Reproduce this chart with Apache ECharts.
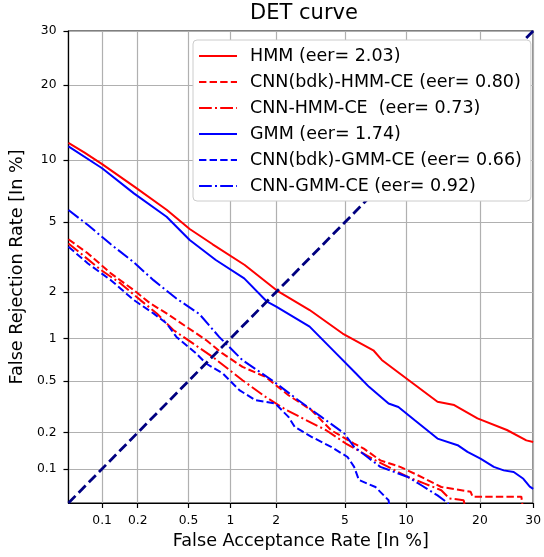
<!DOCTYPE html>
<html><head><meta charset="utf-8">
<script src="https://cdn.jsdelivr.net/npm/echarts@6/dist/echarts.min.js"></script>
<style>html,body{margin:0;padding:0;background:#fff}#c{width:544px;height:557px}</style>
</head><body><div id="c"></div>
<script>
// ---- data (percent values) ----
const tickPercents = [0.1, 0.2, 0.5, 1, 2, 5, 10, 20, 30];
const axisRange = [0.05, 30];

const seriesNames = [
  'HMM (eer= 2.03)',
  'CNN(bdk)-HMM-CE (eer= 0.80)',
  'CNN-HMM-CE  (eer= 0.73)',
  'GMM (eer= 1.74)',
  'CNN(bdk)-GMM-CE (eer= 0.66)',
  'CNN-GMM-CE (eer= 0.92)'
];

// [False Acceptance %, False Rejection %]
const hmm = [[0.05,11.9],[0.07,10.8],[0.1,9.6],[0.19,7.5],[0.34,5.8],[0.51,4.6],[0.75,3.8],[1.25,2.9],[2.02,2.04],[3.18,1.54],[4.86,1.08],[7.0,0.83],[7.7,0.71],[9.2,0.58],[10.95,0.47],[13.7,0.35],[16,0.33],[19.6,0.26],[24.8,0.21],[28.6,0.173],[30,0.168]];
const cnnBdkHmm = [[0.05,4.05],[0.075,3.38],[0.119,2.59],[0.186,2.05],[0.252,1.70],[0.34,1.465],[0.481,1.2],[0.673,0.975],[0.88,0.789],[1.208,0.634],[1.71,0.536],[2.38,0.392],[3.26,0.301],[4.21,0.209],[5.59,0.163],[6.27,0.148],[7.58,0.118],[9.4,0.104],[11.3,0.088],[14.2,0.0695],[18.5,0.063],[18.8,0.057],[27.6,0.057],[27.9,0.045]];
const cnnHmm = [[0.05,3.84],[0.098,2.71],[0.144,2.255],[0.21,1.78],[0.285,1.465],[0.383,1.14],[0.539,0.925],[0.75,0.746],[1.208,0.507],[1.71,0.381],[2.32,0.301],[3.05,0.251],[3.95,0.209],[5.06,0.163],[7.17,0.118],[10.2,0.085],[12.1,0.0745],[14.2,0.065],[15.3,0.055],[17.4,0.053],[17.7,0.045]];
const gmm = [[0.05,11.5],[0.1,9.2],[0.186,7.0],[0.34,5.34],[0.51,4.01],[0.79,3.1],[1.24,2.42],[1.75,1.74],[2.0,1.62],[3.18,1.2],[4.48,0.79],[5.7,0.57],[6.66,0.453],[8.3,0.339],[9.23,0.319],[10.95,0.251],[13.7,0.179],[16.5,0.158],[18,0.139],[20.1,0.122],[22.4,0.104],[24.2,0.097],[26.1,0.094],[28,0.082],[29.3,0.07],[30,0.067]];
const cnnBdkGmm = [[0.05,3.68],[0.075,2.96],[0.119,2.36],[0.186,1.78],[0.268,1.465],[0.34,1.26],[0.405,1.025],[0.57,0.789],[0.673,0.67],[0.885,0.568],[1.15,0.428],[1.475,0.359],[1.97,0.339],[2.38,0.267],[2.6,0.222],[3.26,0.185],[4.21,0.153],[5.16,0.126],[5.59,0.104],[5.92,0.08],[7.17,0.0695],[8.3,0.053],[8.4,0.045]];
const cnnGmm = [[0.05,5.78],[0.075,4.83],[0.119,3.8],[0.186,3.0],[0.268,2.36],[0.405,1.82],[0.602,1.45],[0.834,1.025],[1.208,0.707],[1.88,0.507],[2.73,0.359],[3.71,0.267],[4.96,0.197],[5.59,0.153],[6.53,0.126],[7.58,0.104],[10.2,0.085],[11.7,0.072],[13.7,0.0585],[15.1,0.05],[15.3,0.045]];
const diagonal = [[0.05,0.05],[30,30]];

// ---- normal deviate (probit) transform for the DET scale ----
function probit(pct) {
  const p = pct / 100;
  const a = [-3.969683028665376e+01, 2.209460984245205e+02, -2.759285104469687e+02, 1.383577518672690e+02, -3.066479806614716e+01, 2.506628277459239e+00];
  const b = [-5.447609879822406e+01, 1.615858368580409e+02, -1.556989798598866e+02, 6.680131188771972e+01, -1.328068155288572e+01];
  const c = [-7.784894002430293e-03, -3.223964580411365e-01, -2.400758277161838e+00, -2.549732539343734e+00, 4.374664141464968e+00, 2.938163982698783e+00];
  const d = [7.784695709041462e-03, 3.224671290700398e-01, 2.445134137142996e+00, 3.754408661907416e+00];
  const plow = 0.02425;
  let q, r;
  if (p < plow) {
    q = Math.sqrt(-2 * Math.log(p));
    return (((((c[0]*q+c[1])*q+c[2])*q+c[3])*q+c[4])*q+c[5]) / ((((d[0]*q+d[1])*q+d[2])*q+d[3])*q+1);
  } else if (p <= 1 - plow) {
    q = p - 0.5; r = q * q;
    return (((((a[0]*r+a[1])*r+a[2])*r+a[3])*r+a[4])*r+a[5])*q / (((((b[0]*r+b[1])*r+b[2])*r+b[3])*r+b[4])*r+1);
  } else {
    q = Math.sqrt(-2 * Math.log(1 - p));
    return -(((((c[0]*q+c[1])*q+c[2])*q+c[3])*q+c[4])*q+c[5]) / ((((d[0]*q+d[1])*q+d[2])*q+d[3])*q+1);
  }
}
const toDet = pts => pts.map(v => [probit(v[0]), probit(v[1])]);
const tickVals = tickPercents.map(probit);
const fmt = v => { const i = tickVals.findIndex(t => Math.abs(t - v) < 1e-6); return i < 0 ? '' : String(tickPercents[i]); };

const FONT = 'DejaVu Sans';
const DASH = [7.4, 3.2];
const DASHDOT = [12.8, 3.2, 2, 3.2];

function mk(name, data, color, type) {
  return {
    name, type: 'line', data: toDet(data), symbol: 'none', showSymbol: false,
    lineStyle: { color, width: 2, type }, itemStyle: { color },
    clip: true, z: 2, emphasis: { disabled: true }, silent: true
  };
}

function axisCfg(name, isX) {
  return {
    type: 'value', min: probit(axisRange[0]), max: probit(axisRange[1]),
    name, nameLocation: 'middle', nameGap: isX ? 29 : 37,
    nameTextStyle: { fontFamily: FONT, fontSize: 17.6, color: '#000' },
    axisLine: { show: true, onZero: false, lineStyle: { color: '#000', width: 1.2 } },
    axisTick: { show: true, inside: false, length: 5, customValues: tickVals, lineStyle: { color: '#000', width: 1.2 } },
    axisLabel: { show: true, customValues: tickVals, formatter: fmt, margin: 12,
      fontFamily: FONT, fontSize: 12.3, color: '#000' },
    splitLine: { show: true, lineStyle: { color: '#b0b0b0', width: 1.2 } }
  };
}

const chart = echarts.init(document.getElementById('c'), null, { renderer: 'canvas' });
chart.setOption({
  animation: false,
  backgroundColor: '#fff',
  grid: { left: 68, right: 4, top: 31, bottom: 54, show: true, borderColor: '#000', borderWidth: 1.2, backgroundColor: 'transparent' },
  graphic: [{ type: 'text', x: 304, y: 14, style: { text: 'DET curve', font: '21px "DejaVu Sans"', align: 'center', verticalAlign: 'middle', fill: '#000' } }],
  xAxis: axisCfg('False Acceptance Rate [In %]', true),
  yAxis: axisCfg('False Rejection Rate [In %]', false),
  legend: {
    data: seriesNames, orient: 'vertical', left: 193, top: 40, z: 20,
    itemWidth: 38, itemHeight: 14, itemGap: 8, padding: [7, 9, 6, 5],
    backgroundColor: '#ffffff', borderColor: '#cccccc', borderWidth: 1, borderRadius: 4,
    selectedMode: false,
    itemStyle: { opacity: 0 },
    textStyle: { fontFamily: FONT, fontSize: 17.5, color: '#000', padding: [0, 0, 0, 8] }
  },
  series: [
    mk(seriesNames[0], hmm, '#ff0000', 'solid'),
    mk(seriesNames[1], cnnBdkHmm, '#ff0000', DASH),
    mk(seriesNames[2], cnnHmm, '#ff0000', DASHDOT),
    mk(seriesNames[3], gmm, '#0000ff', 'solid'),
    mk(seriesNames[4], cnnBdkGmm, '#0000ff', DASH),
    mk(seriesNames[5], cnnGmm, '#0000ff', DASHDOT),
    { name: 'diag', type: 'line', data: toDet(diagonal), symbol: 'none', silent: true, z: 3,
      lineStyle: { color: '#000080', width: 2.8, type: [10, 4.5] } }
  ]
});
</script></body></html>
